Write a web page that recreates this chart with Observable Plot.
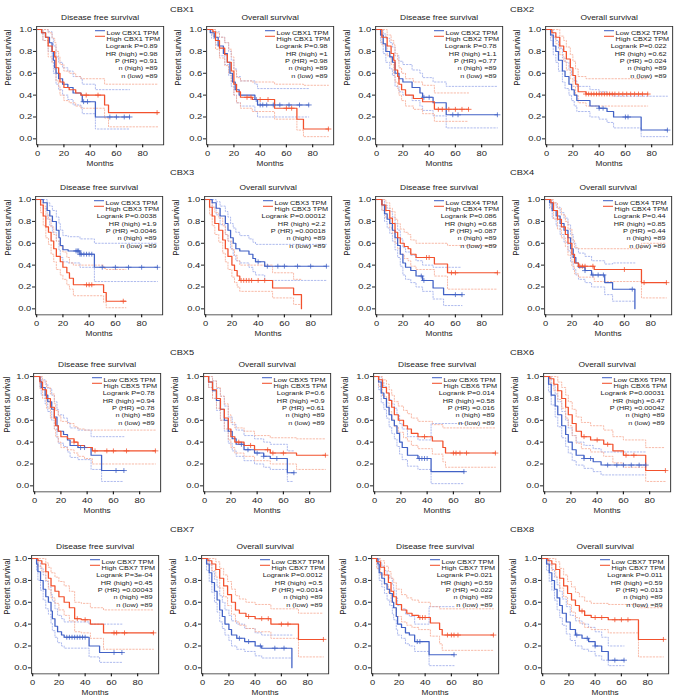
<!DOCTYPE html>
<html><head><meta charset="utf-8">
<script src="https://cdn.jsdelivr.net/npm/d3@7"></script>
<script src="https://cdn.jsdelivr.net/npm/@observablehq/plot@0.6"></script>
<style>
body{margin:0;background:#fff;}
#root{position:relative;width:674px;height:698px;overflow:hidden;font-family:"Liberation Sans",Arial,sans-serif;color:#222;}
.panel{position:absolute;transform-origin:0 0;}
.gene{position:absolute;font-size:7.6px;line-height:1;white-space:nowrap;transform-origin:0 0;}
</style></head><body><div id="root"></div>
<script>
// ---------- categories / labels ----------
const geneLabels = ["CBX1","CBX2","CBX3","CBX4","CBX5","CBX6","CBX7","CBX8"];
const survivalTypes = ["Disease free survival","Overall survival"];
const legendGenes = ["CBX1","CBX1","CBX2","CBX2","CBX3","CBX3","CBX4","CBX4","CBX5","CBX5","CBX6","CBX6","CBX7","CBX7","CBX7","CBX7"];
const logrankP = ["0.89","0.98","0.78","0.022","0.0038","0.00012","0.086","0.44","0.78","0.6","0.014","0.00031","3e-04","0.0012","0.021","0.011"];
const hrHigh = ["0.98","1","1.1","0.62","1.9","2.2","0.68","0.85","0.94","0.9","0.58","0.47","0.45","0.5","0.59","0.59"];
const pHR = ["0.91","0.98","0.77","0.024","0.0046","0.00018","0.087","0.44","0.78","0.61","0.016","0.00042","0.00043","0.0014","0.022","0.013"];
const nHigh = [89,89,89,89,89,89,89,89,89,89,89,89,89,89,89,89];
const nLow = [89,89,89,89,89,89,89,89,89,89,89,89,89,89,89,89];
const xTicks = [0,20,40,60,80];
const yTicks = [0,0.2,0.4,0.6,0.8,1];

// ---------- series: [months, survival] ; CI: [months, upper, lower] ----------
const cbx1_dfs_low = [[0,1],[3,.97],[6,.93],[9,.88],[11,.8],[12,.72],[13,.65],[14,.6],[16,.55],[19,.5],[23,.47],[27,.42],[33,.4],[34,.34],[44,.2],[70,.2]];
const cbx1_dfs_high = [[0,1],[3,.97],[6,.93],[8,.85],[11,.8],[13,.75],[14,.65],[16,.6],[17,.52],[20,.47],[24,.45],[29,.42],[33,.4],[51,.31],[54,.24],[92,.24]];
const cbx1_dfs_lowCI = [[0,1,1],[4,1,.9],[8,.98,.8],[11,.92,.7],[12,.85,.6],[14,.75,.5],[16,.7,.45],[19,.65,.4],[23,.62,.36],[27,.57,.31],[33,.55,.29],[34,.5,.23],[44,.45,.09],[70,.45,.09]];
const cbx1_dfs_highCI = [[0,1,1],[4,1,.9],[8,.97,.75],[11,.92,.7],[13,.88,.63],[14,.8,.53],[16,.75,.48],[17,.68,.4],[20,.62,.35],[24,.6,.33],[29,.57,.3],[33,.55,.28],[51,.5,.19],[54,.5,.11],[92,.5,.11]];
const cbx1_dfs_lowCens = [35,38,55,60,66,70];
const cbx1_dfs_highCens = [37,46,91];

const cbx1_os_low = [[0,1],[2,.97],[5,.93],[8,.85],[12,.78],[15,.7],[17,.6],[19,.52],[21,.45],[24,.4],[36,.36],[38,.31],[77,.31]];
const cbx1_os_high = [[0,1],[4,.98],[6,.9],[9,.83],[13,.77],[15,.7],[18,.62],[20,.5],[22,.43],[25,.38],[34,.36],[51,.28],[68,.18],[73,.09],[92,.09]];
const cbx1_os_lowCI = [[0,1,1],[3,1,.92],[6,.98,.86],[9,.93,.76],[13,.88,.68],[16,.8,.58],[18,.72,.48],[20,.64,.4],[22,.57,.33],[25,.53,.3],[36,.5,.25],[38,.46,.2],[77,.46,.2]];
const cbx1_os_highCI = [[0,1,1],[4,1,.94],[6,.97,.82],[9,.93,.74],[13,.88,.67],[16,.82,.6],[18,.75,.52],[20,.63,.4],[22,.56,.33],[25,.53,.28],[34,.52,.25],[51,.5,.18],[68,.5,.08],[73,.49,.02],[92,.49,.02]];
const cbx1_os_lowCens = [37,40,42,45,50,55,62,70,77];
const cbx1_os_highCens = [30,33,40,46,60,64,92];

const cbx2_dfs_low = [[0,1],[3,.95],[5,.87],[7,.8],[10,.75],[12,.7],[14,.6],[17,.55],[20,.52],[27,.47],[33,.42],[35,.38],[43,.33],[53,.22],[92,.22]];
const cbx2_dfs_high = [[0,1],[4,.93],[8,.85],[11,.78],[13,.72],[14,.63],[16,.57],[17,.5],[19,.45],[22,.4],[28,.37],[35,.34],[44,.27],[70,.27]];
const cbx2_dfs_lowCI = [[0,1,1],[3,1,.88],[5,.96,.78],[7,.92,.7],[10,.88,.64],[12,.84,.58],[14,.76,.48],[17,.71,.43],[20,.68,.4],[27,.63,.35],[33,.6,.3],[35,.56,.26],[43,.52,.21],[53,.48,.1],[92,.48,.1]];
const cbx2_dfs_highCI = [[0,1,1],[4,1,.86],[8,.95,.76],[11,.9,.68],[13,.86,.6],[14,.78,.52],[16,.72,.46],[17,.65,.4],[19,.6,.35],[22,.55,.3],[28,.52,.27],[35,.49,.23],[44,.42,.16],[70,.42,.16]];
const cbx2_dfs_lowCens = [36,40,58,62,92];
const cbx2_dfs_highCens = [47,50,55,60,65,70];

const cbx2_os_low = [[0,1],[3,.95],[5,.85],[7,.8],[9,.72],[12,.62],[14,.57],[17,.5],[19,.45],[21,.4],[23,.35],[33,.3],[40,.28],[46,.25],[51,.2],[72,.08],[92,.08]];
const cbx2_os_high = [[0,1],[4,.97],[7,.93],[10,.85],[13,.8],[15,.73],[18,.65],[20,.58],[22,.5],[24,.43],[30,.41],[77,.41]];
const cbx2_os_lowCI = [[0,1,1],[3,1,.9],[5,.94,.77],[7,.9,.7],[9,.83,.62],[12,.74,.52],[14,.7,.46],[17,.63,.4],[19,.58,.35],[21,.53,.3],[23,.48,.25],[33,.45,.2],[40,.43,.18],[46,.41,.15],[51,.39,.1],[72,.39,.02],[92,.39,.02]];
const cbx2_os_highCI = [[0,1,1],[4,1,.93],[7,1,.87],[10,.94,.77],[13,.9,.71],[15,.84,.63],[18,.77,.55],[20,.71,.48],[22,.64,.4],[24,.57,.33],[30,.55,.3],[77,.55,.3]];
const cbx2_os_lowCens = [40,43,60,62,92];
const cbx2_os_highCens = [30,32,34,36,38,40,42,44,46,48,50,52,55,58,61,64,67,70,73,77];

const cbx3_dfs_low = [[0,1],[5,.97],[8,.9],[10,.85],[12,.8],[15,.72],[17,.65],[18,.58],[20,.54],[24,.53],[33,.5],[44,.38],[92,.38]];
const cbx3_dfs_high = [[0,1],[3,.95],[5,.85],[7,.75],[9,.7],[11,.62],[13,.55],[15,.48],[18,.43],[20,.38],[23,.33],[25,.28],[28,.22],[51,.15],[53,.07],[68,.07]];
const cbx3_dfs_lowCI = [[0,1,1],[5,1,.92],[8,.97,.82],[10,.94,.76],[12,.9,.7],[15,.84,.62],[17,.78,.54],[18,.72,.47],[20,.67,.43],[24,.66,.42],[33,.64,.38],[44,.6,.25],[92,.6,.25]];
const cbx3_dfs_highCI = [[0,1,1],[3,1,.88],[5,.94,.76],[7,.86,.65],[9,.82,.59],[11,.75,.5],[13,.68,.43],[15,.62,.36],[18,.57,.31],[20,.52,.27],[23,.47,.22],[25,.42,.18],[28,.4,.12],[51,.37,.06],[53,.36,.01],[68,.36,.01]];
const cbx3_dfs_lowCens = [30,31,32,33,34,36,38,40,42,50,60,70,80,92];
const cbx3_dfs_highCens = [38,40,42,66];

const cbx3_os_low = [[0,1],[5,.97],[8,.92],[11,.85],[15,.78],[17,.72],[19,.65],[21,.6],[23,.55],[26,.53],[33,.5],[36,.46],[38,.43],[45,.39],[92,.39]];
const cbx3_os_high = [[0,1],[3,.93],[5,.85],[7,.78],[10,.72],[13,.63],[15,.55],[17,.48],[20,.4],[22,.35],[24,.3],[26,.26],[51,.19],[67,.13],[73,0]];
const cbx3_os_lowCI = [[0,1,1],[5,1,.93],[8,.98,.86],[11,.94,.77],[15,.89,.68],[17,.84,.62],[19,.78,.55],[21,.74,.49],[23,.7,.44],[26,.67,.42],[33,.64,.38],[36,.61,.34],[38,.59,.31],[45,.59,.26],[92,.59,.26]];
const cbx3_os_highCI = [[0,1,1],[3,.99,.86],[5,.93,.76],[7,.88,.68],[10,.83,.61],[13,.76,.51],[15,.68,.43],[17,.62,.36],[20,.54,.29],[22,.49,.24],[24,.44,.2],[26,.4,.16],[51,.33,.1],[67,.27,.04],[73,.27,.04]];
const cbx3_os_lowCens = [40,47,55,60,70,80,92];
const cbx3_os_highCens = [27,29,31,33,35,40,45];

const cbx4_dfs_low = [[0,1],[4,.95],[6,.87],[8,.82],[10,.78],[12,.72],[14,.65],[16,.58],[18,.5],[20,.42],[22,.38],[26,.35],[30,.3],[35,.26],[43,.19],[51,.13],[65,.13]];
const cbx4_dfs_high = [[0,1],[4,.95],[7,.9],[10,.83],[12,.78],[14,.7],[16,.65],[18,.6],[21,.57],[24,.55],[26,.5],[30,.47],[44,.41],[54,.33],[92,.33]];
const cbx4_dfs_lowCI = [[0,1,1],[4,1,.9],[6,.95,.8],[8,.92,.74],[10,.89,.69],[12,.84,.62],[14,.78,.54],[16,.72,.47],[18,.64,.39],[20,.56,.31],[22,.52,.27],[26,.49,.24],[30,.44,.2],[35,.4,.16],[43,.38,.09],[51,.38,.03],[65,.38,.03]];
const cbx4_dfs_highCI = [[0,1,1],[4,1,.9],[7,.97,.83],[10,.92,.74],[12,.89,.69],[14,.82,.6],[16,.78,.55],[18,.73,.5],[21,.7,.46],[24,.68,.44],[26,.63,.39],[30,.6,.36],[44,.6,.3],[54,.58,.18],[92,.58,.18]];
const cbx4_dfs_lowCens = [34,36,60,65];
const cbx4_dfs_highCens = [38,40,57,60,92];

const cbx4_os_low = [[0,1],[3,.97],[5,.9],[8,.85],[11,.78],[14,.72],[17,.65],[19,.55],[21,.47],[23,.42],[25,.38],[30,.35],[35,.31],[45,.24],[51,.18],[68,0]];
const cbx4_os_high = [[0,1],[4,.97],[6,.9],[9,.82],[12,.75],[15,.68],[17,.6],[20,.5],[22,.42],[25,.39],[37,.36],[73,.24],[92,.24]];
const cbx4_os_lowCI = [[0,1,1],[3,1,.92],[5,.97,.83],[8,.93,.76],[11,.88,.68],[14,.83,.61],[17,.77,.53],[19,.68,.43],[21,.6,.36],[23,.55,.31],[25,.51,.27],[30,.48,.24],[35,.44,.2],[45,.41,.13],[51,.42,.07],[68,.42,.07]];
const cbx4_os_highCI = [[0,1,1],[4,1,.92],[6,.97,.82],[9,.92,.73],[12,.86,.65],[15,.8,.57],[17,.73,.49],[20,.63,.39],[22,.56,.32],[25,.55,.29],[37,.55,.25],[73,.6,.1],[92,.6,.1]];
const cbx4_os_lowCens = [30,36,40,44,66];
const cbx4_os_highCens = [26,28,30,36,60,75,92];

const cbx5_dfs_low = [[0,1],[4,.96],[5,.9],[8,.83],[10,.77],[13,.7],[15,.63],[17,.55],[18,.5],[22,.47],[25,.42],[27,.37],[33,.35],[43,.28],[51,.14],[68,.14]];
const cbx5_dfs_high = [[0,1],[4,.95],[6,.88],[9,.8],[12,.72],[15,.62],[16,.55],[18,.5],[20,.45],[25,.43],[30,.4],[33,.37],[38,.35],[44,.32],[92,.32]];
const cbx5_dfs_lowCI = [[0,1,1],[4,1,.9],[5,.97,.83],[8,.93,.75],[10,.89,.68],[13,.83,.6],[15,.77,.52],[17,.7,.44],[18,.65,.39],[22,.62,.36],[25,.58,.31],[27,.53,.26],[33,.51,.24],[43,.45,.15],[51,.45,.04],[68,.45,.04]];
const cbx5_dfs_highCI = [[0,1,1],[4,1,.89],[6,.96,.8],[9,.9,.71],[12,.84,.62],[15,.75,.52],[16,.69,.45],[18,.64,.4],[20,.59,.35],[25,.57,.33],[30,.54,.3],[33,.52,.27],[38,.51,.25],[44,.51,.2],[92,.51,.2]];
const cbx5_dfs_lowCens = [35,38,62,68];
const cbx5_dfs_highCens = [30,46,55,60,70,92];

const cbx5_os_low = [[0,1],[3,.95],[6,.87],[9,.78],[12,.7],[15,.6],[18,.5],[21,.43],[24,.38],[30,.33],[38,.3],[45,.27],[50,.25],[63,.12],[68,.12]];
const cbx5_os_high = [[0,1],[3,.95],[6,.88],[9,.8],[12,.7],[15,.62],[18,.52],[20,.45],[23,.4],[30,.37],[38,.33],[50,.3],[70,.28],[92,.28]];
const cbx5_os_lowCI = [[0,1,1],[3,1,.9],[6,.96,.8],[9,.89,.69],[12,.82,.6],[15,.73,.5],[18,.63,.39],[21,.56,.32],[24,.51,.27],[30,.46,.23],[38,.43,.2],[45,.4,.17],[50,.38,.15],[63,.32,.04],[68,.32,.04]];
const cbx5_os_highCI = [[0,1,1],[3,1,.9],[6,.96,.8],[9,.9,.71],[12,.82,.6],[15,.75,.52],[18,.65,.42],[20,.58,.35],[23,.53,.3],[30,.5,.27],[38,.46,.23],[50,.44,.2],[70,.43,.15],[92,.43,.15]];
const cbx5_os_lowCens = [28,33,40,45,55,68];
const cbx5_os_highCens = [26,35,48,52,60,92];

const cbx6_dfs_low = [[0,1],[3,.95],[5,.85],[7,.8],[9,.72],[11,.65],[13,.6],[15,.55],[17,.48],[19,.4],[21,.35],[25,.28],[33,.25],[43,.13],[68,.13]];
const cbx6_dfs_high = [[0,1],[3,.97],[6,.9],[9,.85],[11,.78],[13,.72],[15,.65],[18,.6],[22,.55],[25,.52],[28,.48],[33,.45],[44,.41],[52,.35],[54,.3],[92,.3]];
const cbx6_dfs_lowCI = [[0,1,1],[3,1,.88],[5,.95,.76],[7,.91,.7],[9,.85,.62],[11,.79,.54],[13,.75,.48],[15,.71,.43],[17,.65,.36],[19,.57,.29],[21,.52,.24],[25,.45,.18],[33,.42,.15],[43,.57,.02],[68,.57,.02]];
const cbx6_dfs_highCI = [[0,1,1],[3,1,.91],[6,.97,.82],[9,.93,.76],[11,.88,.68],[13,.83,.61],[15,.77,.54],[18,.73,.49],[22,.69,.44],[25,.66,.41],[28,.62,.37],[33,.59,.34],[44,.56,.29],[52,.53,.22],[54,.53,.17],[92,.53,.17]];
const cbx6_dfs_lowCens = [34,36,38,40,68];
const cbx6_dfs_highCens = [38,60,62,65,70,92];

const cbx6_os_low = [[0,1],[3,.93],[5,.83],[8,.73],[10,.65],[13,.55],[16,.47],[18,.4],[21,.33],[24,.28],[30,.25],[37,.22],[43,.19],[77,.19]];
const cbx6_os_high = [[0,1],[4,.98],[7,.93],[10,.87],[13,.8],[16,.72],[18,.65],[21,.57],[24,.5],[28,.45],[35,.42],[45,.38],[52,.32],[60,.28],[77,.14],[92,.14]];
const cbx6_os_lowCI = [[0,1,1],[3,1,.86],[5,.92,.74],[8,.84,.63],[10,.77,.54],[13,.68,.44],[16,.6,.36],[18,.53,.3],[21,.46,.23],[24,.4,.19],[30,.37,.16],[37,.34,.13],[43,.31,.1],[77,.31,.1]];
const cbx6_os_highCI = [[0,1,1],[4,1,.94],[7,1,.87],[10,.95,.79],[13,.9,.71],[16,.83,.62],[18,.77,.55],[21,.7,.46],[24,.63,.39],[28,.58,.34],[35,.55,.31],[45,.51,.27],[52,.45,.21],[60,.42,.17],[77,.35,.04],[92,.35,.04]];
const cbx6_os_lowCens = [30,35,48,55,60,66,72,77];
const cbx6_os_highCens = [30,40,48,62,68,92];

const cbx7_dfs_low = [[0,1],[3,.95],[4,.88],[6,.8],[8,.72],[10,.65],[12,.6],[14,.52],[15,.45],[17,.38],[19,.33],[22,.3],[24,.28],[43,.2],[51,.14],[68,.14]];
const cbx7_dfs_high = [[0,1],[4,.98],[7,.95],[10,.88],[12,.82],[14,.75],[17,.7],[20,.65],[24,.6],[28,.55],[32,.45],[37,.44],[44,.4],[54,.32],[92,.32]];
const cbx7_dfs_lowCI = [[0,1,1],[3,1,.89],[4,.96,.8],[6,.91,.71],[8,.85,.62],[10,.79,.54],[12,.74,.49],[14,.67,.41],[15,.61,.34],[17,.54,.28],[19,.48,.23],[22,.45,.2],[24,.42,.18],[43,.4,.1],[51,.4,.05],[68,.4,.05]];
const cbx7_dfs_highCI = [[0,1,1],[4,1,.93],[7,1,.88],[10,.96,.8],[12,.92,.72],[14,.87,.64],[17,.83,.59],[20,.79,.53],[24,.75,.48],[28,.7,.43],[32,.6,.33],[37,.59,.32],[44,.55,.27],[54,.53,.17],[92,.53,.17]];
const cbx7_dfs_lowCens = [26,28,30,32,34,36,38,40,62,68];
const cbx7_dfs_highCens = [34,40,62,64,70,92];

const cbx7_os_low = [[0,1],[3,.95],[5,.87],[7,.78],[9,.7],[11,.62],[13,.53],[15,.47],[17,.4],[20,.35],[22,.3],[26,.27],[32,.24],[40,.2],[45,.18],[68,0]];
const cbx7_os_high = [[0,1],[4,.98],[7,.95],[10,.9],[13,.82],[16,.75],[19,.67],[22,.6],[25,.53],[28,.5],[33,.47],[40,.45],[52,.4],[73,.26],[92,.26]];
const cbx7_os_lowCI = [[0,1,1],[3,1,.89],[5,.95,.79],[7,.88,.69],[9,.81,.6],[11,.74,.51],[13,.66,.42],[15,.6,.36],[17,.53,.3],[20,.48,.25],[22,.43,.2],[26,.4,.17],[32,.36,.15],[40,.32,.11],[45,.3,.09],[68,.3,.09]];
const cbx7_os_highCI = [[0,1,1],[4,1,.94],[7,1,.89],[10,.97,.83],[13,.91,.73],[16,.85,.65],[19,.79,.57],[22,.72,.49],[25,.66,.42],[28,.63,.39],[33,.6,.36],[40,.58,.33],[52,.54,.27],[73,.5,.1],[92,.5,.1]];
const cbx7_os_lowCens = [28,35,44,55,62];
const cbx7_os_highCens = [35,45,50,60,65,92];

const cbx8_dfs_low = [[0,1],[4,.95],[5,.87],[7,.82],[9,.77],[11,.72],[13,.68],[15,.6],[16,.55],[18,.47],[19,.4],[22,.37],[25,.32],[28,.3],[32,.24],[43,.12],[62,.12]];
const cbx8_dfs_high = [[0,1],[3,.97],[6,.92],[9,.85],[12,.78],[14,.7],[16,.65],[18,.58],[22,.53],[26,.5],[30,.48],[35,.46],[44,.41],[51,.35],[53,.3],[92,.3]];
const cbx8_dfs_lowCI = [[0,1,1],[4,1,.9],[5,.96,.8],[7,.93,.74],[9,.89,.68],[11,.85,.62],[13,.82,.57],[15,.76,.49],[16,.71,.44],[18,.64,.35],[19,.57,.3],[22,.54,.27],[25,.49,.22],[28,.47,.2],[32,.4,.15],[43,.56,.02],[62,.56,.02]];
const cbx8_dfs_highCI = [[0,1,1],[3,1,.91],[6,.98,.85],[9,.93,.76],[12,.88,.68],[14,.82,.6],[16,.78,.55],[18,.72,.47],[22,.67,.42],[26,.64,.39],[30,.62,.37],[35,.6,.35],[44,.56,.29],[51,.54,.22],[53,.54,.16],[92,.54,.16]];
const cbx8_dfs_lowCens = [34,36,62];
const cbx8_dfs_highCens = [36,38,40,57,60,62,65,92];

const cbx8_os_low = [[0,1],[3,.95],[5,.87],[7,.8],[9,.72],[11,.64],[13,.57],[15,.5],[18,.42],[21,.35],[25,.3],[30,.27],[35,.24],[40,.2],[45,.15],[50,.07],[62,.07]];
const cbx8_os_high = [[0,1],[4,.98],[7,.95],[10,.9],[13,.82],[16,.75],[19,.68],[22,.62],[25,.57],[28,.52],[32,.48],[37,.46],[50,.44],[73,.26],[92,.26]];
const cbx8_os_lowCI = [[0,1,1],[3,1,.89],[5,.95,.79],[7,.9,.71],[9,.83,.62],[11,.76,.53],[13,.7,.46],[15,.63,.39],[18,.56,.31],[21,.48,.25],[25,.43,.2],[30,.4,.17],[35,.37,.15],[40,.33,.11],[45,.28,.07],[50,.2,.02],[62,.2,.02]];
const cbx8_os_highCI = [[0,1,1],[4,1,.94],[7,1,.89],[10,.97,.83],[13,.91,.73],[16,.85,.65],[19,.79,.58],[22,.74,.51],[25,.69,.46],[28,.65,.41],[32,.61,.37],[37,.59,.35],[50,.58,.32],[73,.55,.1],[92,.55,.1]];
const cbx8_os_lowCens = [26,34,40,55,62];
const cbx8_os_highCens = [30,40,45,55,60,65,92];

// ---------- table built from the arrays (row-major order) ----------
const panels = [
  [cbx1_dfs_low,cbx1_dfs_high,cbx1_dfs_lowCI,cbx1_dfs_highCI,cbx1_dfs_lowCens,cbx1_dfs_highCens],
  [cbx1_os_low,cbx1_os_high,cbx1_os_lowCI,cbx1_os_highCI,cbx1_os_lowCens,cbx1_os_highCens],
  [cbx2_dfs_low,cbx2_dfs_high,cbx2_dfs_lowCI,cbx2_dfs_highCI,cbx2_dfs_lowCens,cbx2_dfs_highCens],
  [cbx2_os_low,cbx2_os_high,cbx2_os_lowCI,cbx2_os_highCI,cbx2_os_lowCens,cbx2_os_highCens],
  [cbx3_dfs_low,cbx3_dfs_high,cbx3_dfs_lowCI,cbx3_dfs_highCI,cbx3_dfs_lowCens,cbx3_dfs_highCens],
  [cbx3_os_low,cbx3_os_high,cbx3_os_lowCI,cbx3_os_highCI,cbx3_os_lowCens,cbx3_os_highCens],
  [cbx4_dfs_low,cbx4_dfs_high,cbx4_dfs_lowCI,cbx4_dfs_highCI,cbx4_dfs_lowCens,cbx4_dfs_highCens],
  [cbx4_os_low,cbx4_os_high,cbx4_os_lowCI,cbx4_os_highCI,cbx4_os_lowCens,cbx4_os_highCens],
  [cbx5_dfs_low,cbx5_dfs_high,cbx5_dfs_lowCI,cbx5_dfs_highCI,cbx5_dfs_lowCens,cbx5_dfs_highCens],
  [cbx5_os_low,cbx5_os_high,cbx5_os_lowCI,cbx5_os_highCI,cbx5_os_lowCens,cbx5_os_highCens],
  [cbx6_dfs_low,cbx6_dfs_high,cbx6_dfs_lowCI,cbx6_dfs_highCI,cbx6_dfs_lowCens,cbx6_dfs_highCens],
  [cbx6_os_low,cbx6_os_high,cbx6_os_lowCI,cbx6_os_highCI,cbx6_os_lowCens,cbx6_os_highCens],
  [cbx7_dfs_low,cbx7_dfs_high,cbx7_dfs_lowCI,cbx7_dfs_highCI,cbx7_dfs_lowCens,cbx7_dfs_highCens],
  [cbx7_os_low,cbx7_os_high,cbx7_os_lowCI,cbx7_os_highCI,cbx7_os_lowCens,cbx7_os_highCens],
  [cbx8_dfs_low,cbx8_dfs_high,cbx8_dfs_lowCI,cbx8_dfs_highCI,cbx8_dfs_lowCens,cbx8_dfs_highCens],
  [cbx8_os_low,cbx8_os_high,cbx8_os_lowCI,cbx8_os_highCI,cbx8_os_lowCens,cbx8_os_highCens]
];

// ---------- layout ----------
const BLUE = "#4262c6", RED = "#f2512d", BLUE_CI = "#9fadea", RED_CI = "#f7ad98";
const FONT = "'Liberation Sans', Arial, Helvetica, sans-serif";
const S = 1.22;                         // the source figure is horizontally stretched
const PXM = 1.3125, PXY = 109.3;        // page px per month / per unit survival
const XD = [-0.8, 96], YD = [-0.055, 1.028];
const ML = 36, MT = 26, MR = 5, MB = 30; // page px
const FW = (XD[1]-XD[0])*PXM, FH = (YD[1]-YD[0])*PXY;
const rowY1 = [29, 199, 375.7, 558.3];          // page y of survival = 1.0
const rowX0 = [[37,207,376,546],[35.7,205,375.7,545],[34.3,204,374,544],[32.3,202,371.7,542]]; // page x of month 0
const geneLabelY = [9.5, 172.5, 352.5, 530];
const geneLabelX = [169.5, 509.5];
const statDy = [17.6, 24.9, 32.2, 39.5, 46.8];

function stepAt(curve, t){ let s = curve[0][1]; for (const [tt, ss] of curve) if (tt <= t) s = ss; return s; }

const root = document.getElementById("root");

panels.forEach((p, i) => {
  const [low, high, lowCI, highCI, lowCens, highCens] = p;
  const row = Math.floor(i/4), col = i % 4;
  const title = survivalTypes[i % 2];
  const stats = [`Logrank P=${logrankP[i]}`, `HR (high) =${hrHigh[i]}`, `P (HR) =${pHR[i]}`, `n (high) =${nHigh[i]}`, `n (low) =${nLow[i]}`];
  const frameLeft = rowX0[row][col] - (0 - XD[0])*PXM;
  const yLabelDx = -Math.min(28.5, frameLeft - 7);   // keep the rotated label inside the page
  const ciOpts = (c, k) => ({x: d=>d[0], y: d=>d[k], curve: "step-after", stroke: c, strokeWidth: 0.75, strokeDasharray: "1.2,1.5"});
  const chart = Plot.plot({
    width: (ML + FW + MR)/S, height: MT + FH + MB,
    marginLeft: ML/S, marginTop: MT, marginRight: MR/S, marginBottom: MB,
    x: {domain: XD}, y: {domain: YD},
    style: {fontFamily: FONT, fontSize: "7.7px", color: "#222", background: "transparent", overflow: "visible"},
    marks: [
      Plot.line(lowCI, ciOpts(BLUE_CI, 1)),
      Plot.line(lowCI, ciOpts(BLUE_CI, 2)),
      Plot.line(highCI, ciOpts(RED_CI, 1)),
      Plot.line(highCI, ciOpts(RED_CI, 2)),
      Plot.line(low, {x: d=>d[0], y: d=>d[1], curve: "step-after", stroke: BLUE, strokeWidth: 1.05}),
      Plot.line(high, {x: d=>d[0], y: d=>d[1], curve: "step-after", stroke: RED, strokeWidth: 1.05}),
      Plot.dot(lowCens, {x: d=>d, y: d=>stepAt(low, d), symbol: "plus", r: 1.7, stroke: BLUE, strokeWidth: 0.7}),
      Plot.dot(highCens, {x: d=>d, y: d=>stepAt(high, d), symbol: "plus", r: 1.7, stroke: RED, strokeWidth: 0.7}),
      Plot.frame({stroke: "#333", strokeWidth: 0.8}),
      Plot.axisX({ticks: xTicks, tickSize: 3, tickPadding: 3, fontSize: 7.7, label: null}),
      Plot.axisY({ticks: yTicks, tickFormat: d => d.toFixed(1), tickSize: 3/S, tickPadding: 1.3/S, fontSize: 7.7, label: null}),
      Plot.text([title], {frameAnchor: "top", dy: -11, fontSize: 6.9, text: d=>d}),
      Plot.text(["Months"], {frameAnchor: "bottom", dy: 21, fontSize: 6.8, text: d=>d}),
      Plot.text(["Percent survival"], {frameAnchor: "left", dx: yLabelDx/S, rotate: -90, fontSize: 7.9, text: d=>d}),
      Plot.text([`Low ${legendGenes[i]} TPM`], {frameAnchor: "top-left", dx: 70/S, dy: 4.7, textAnchor: "start", fontSize: 6, text: d=>d}),
      Plot.text([`High ${legendGenes[i]} TPM`], {frameAnchor: "top-left", dx: 70/S, dy: 10.3, textAnchor: "start", fontSize: 6, text: d=>d}),
      ...stats.map((s, k) => Plot.text([s], {frameAnchor: "top-right", dx: -6/S, dy: statDy[k], textAnchor: "end", fontSize: 6, text: d=>d}))
    ]
  });
  // legend line samples (not data)
  const svg = d3.select(chart);
  [[4.7, BLUE],[10.3, RED]].forEach(([dy, c]) => {
    svg.append("line").attr("x1", (ML+59)/S).attr("x2", (ML+69)/S).attr("y1", MT+dy).attr("y2", MT+dy)
      .attr("stroke", c).attr("stroke-width", 1.05);
  });
  chart.classList.add("panel");
  chart.style.left = (frameLeft - ML) + "px";
  chart.style.top = (rowY1[row] - (YD[1]-1)*PXY - MT) + "px";
  chart.style.transform = `scaleX(${S})`;
  root.appendChild(chart);
});

// gene labels
geneLabels.forEach((g, k) => {
  const d = document.createElement("div");
  d.className = "gene";
  d.textContent = g;
  d.style.left = geneLabelX[k % 2] + "px";
  d.style.top = (geneLabelY[Math.floor(k/2)] - 4) + "px";
  d.style.transform = `scaleX(${S})`;
  root.appendChild(d);
});
</script>
</body></html>
